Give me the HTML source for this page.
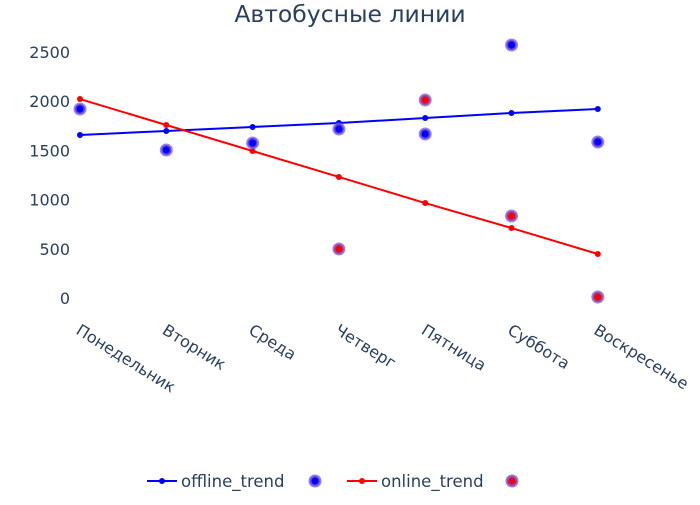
<!DOCTYPE html>
<html><head><meta charset="utf-8"><style>
body{margin:0;background:#fff}
svg text{font-family:"DejaVu Sans","Liberation Sans",sans-serif;fill:#2a3f5f}
</style></head><body>
<svg id="c" width="700" height="500">
<text x="350" y="22" text-anchor="middle" font-size="23.5">Автобусные линии</text>
<g id="ax"></g><g id="marks"></g>
<g>
<line x1="147" y1="481" x2="177" y2="481" stroke="#0000ff" stroke-width="2"/><circle cx="162" cy="481" r="3" fill="#0000ff"/>
<text x="181" y="487" font-size="16.5">offline_trend</text>
<circle cx="315" cy="481" r="5" fill="#0000ff" stroke="rgba(120,90,220,0.8)" stroke-width="3"/>
<line x1="347" y1="481" x2="377" y2="481" stroke="#ff0000" stroke-width="2"/><circle cx="362" cy="481" r="3" fill="#ff0000"/>
<text x="381" y="487" font-size="16.5">online_trend</text>
<circle cx="512" cy="481" r="5" fill="#ff0000" stroke="rgba(120,90,220,0.8)" stroke-width="3"/>
</g>
</svg>
<script>
const categories=["Понедельник","Вторник","Среда","Четверг","Пятница","Суббота","Воскресенье"];
const offlineTrend=[1657,1697,1738,1778,1829,1880,1921];
const onlineTrend=[2022,1758,1494,1230,965,711,447];
const offlinePoints=[1921,1504,1575,1717,1667,2571,1585];
const onlinePoints=[null,null,null,498,2012,833,10];
const yTicks=[0,500,1000,1500,2000,2500];
const NS="http://www.w3.org/2000/svg";
const xs=i=>80+i*86.3;
const ys=v=>298-v*0.0984;
function mk(t,a,p){const e=document.createElementNS(NS,t);for(const k in a)e.setAttribute(k,a[k]);p.appendChild(e);return e;}
const ax=document.getElementById('ax'),mg=document.getElementById('marks');
yTicks.forEach(v=>{const t=mk('text',{x:70,y:ys(v)+6,'text-anchor':'end','font-size':16},ax);t.textContent=v;

});
categories.forEach((c,i)=>{const t=mk('text',{x:0,y:0,'font-size':16,transform:`translate(${xs(i)-5},${333}) rotate(32)`},ax);t.textContent=c;

});
function line(arr,col,name){const d=arr.map((v,i)=>(i?'L':'M')+xs(i)+','+ys(v)).join('');
const p=mk('path',{d,fill:'none',stroke:col,'stroke-width':2},mg);


arr.forEach((v,i)=>{const c=mk('circle',{cx:xs(i),cy:ys(v),r:3,fill:col},mg);

});}
function pts(arr,col,name){arr.forEach((v,i)=>{if(v==null)return;const c=mk('circle',{cx:xs(i),cy:ys(v),r:5,fill:col,stroke:'rgba(120,90,220,0.75)','stroke-width':3},mg);

});}
line(offlineTrend,'#0000ff','offline-trend');
line(onlineTrend,'#ff0000','online-trend');
pts(offlinePoints,'#0000ff','offline-marker');
pts(onlinePoints,'#ff0000','online-marker');
</script>
</body></html>
